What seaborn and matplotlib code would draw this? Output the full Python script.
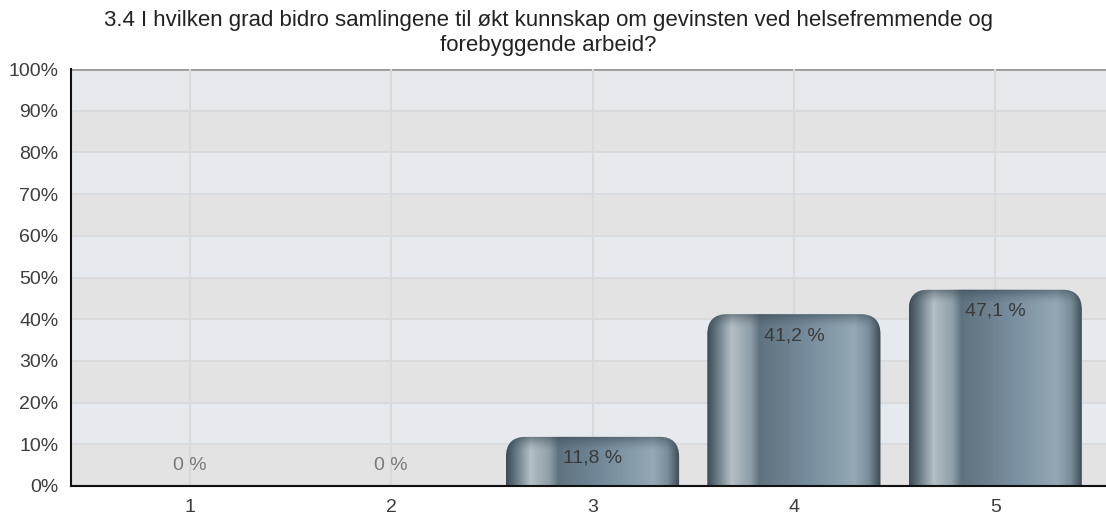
import numpy as np
import pandas as pd
import matplotlib
matplotlib.use("Agg")
import matplotlib.pyplot as plt
import seaborn as sns
from matplotlib.patches import FancyBboxPatch
from matplotlib.colors import LinearSegmentedColormap

categories = ["1", "2", "3", "4", "5"]
values = [0.0, 0.0, 11.8, 41.2, 47.1]
labels = ["0 %", "0 %", "11,8 %", "41,2 %", "47,1 %"]
title = ("3.4 I hvilken grad bidro samlingene til økt kunnskap om gevinsten ved helsefremmende og\n"
         "forebyggende arbeid?")

df = pd.DataFrame({"svar": categories, "prosent": values})

sns.set_style("white")
plt.rcParams["font.family"] = ["Liberation Sans", "DejaVu Sans"]

fig = plt.figure(figsize=(11.06, 5.19), dpi=100)
ax = fig.add_axes([71 / 1106, 33 / 519, 1 - 71 / 1106, (486 - 69) / 519])

sns.barplot(data=df, x="svar", y="prosent", order=categories, width=0.86,
            color="#6d8492", ax=ax, zorder=3)

# alternating background bands
ax.set_facecolor("#e3e3e4")
for y0 in range(10, 100, 20):
    ax.axhspan(y0, y0 + 10, color="#e6e9ed", zorder=0, lw=0)
for y in range(10, 100, 10):
    ax.axhline(y, color="#d8d9db", lw=1.2, zorder=1)
ax.axhline(100, color="#9a9a9a", lw=2, zorder=1)
for i in range(len(categories)):
    ax.axvline(i, color="#d8dadc", lw=1.5, zorder=1)

# bar gradient
grad = LinearSegmentedColormap.from_list("bar", [
    (0.00, "#3c4b55"), (0.05, "#61737e"), (0.14, "#b4bfc6"),
    (0.25, "#8e9ea8"), (0.30, "#5f737f"), (0.55, "#74899a"),
    (0.85, "#94a9b5"), (0.93, "#7a8f9b"), (1.00, "#3b4a54")])
row = np.linspace(0, 1, 256).reshape(1, -1)

px_x = 201.0
px_y = 4.17
r_px = 20
for patch, val in zip(ax.patches, values):
    patch.set_visible(False)
    if val <= 0:
        continue
    x0 = patch.get_x()
    w = patch.get_width()
    h = patch.get_height()
    rx = r_px / px_x
    ry = r_px / px_y
    shape = FancyBboxPatch((x0, -ry), w, h + ry,
                           boxstyle=f"round,pad=0,rounding_size={rx}",
                           mutation_aspect=ry / rx, facecolor="none",
                           edgecolor="none", zorder=3)
    ax.add_patch(shape)
    im = ax.imshow(row, cmap=grad, aspect="auto", extent=(x0, x0 + w, 0, h),
                   zorder=3, interpolation="bilinear")
    im.set_clip_path(shape)
    # dark cap on the top
    cap_h = 14 / px_y
    cap = np.linspace(0, 1, 64).reshape(-1, 1)
    capcol = np.zeros((64, 1, 4))
    capcol[..., :3] = np.array([0.2, 0.26, 0.3])
    capcol[..., 3] = 0.5 * cap ** 1.5
    im2 = ax.imshow(capcol, aspect="auto", extent=(x0, x0 + w, h - cap_h, h),
                    origin="lower", zorder=3.5, interpolation="bilinear")
    im2.set_clip_path(shape)

ax.set_xlim(-0.59, 4.55)
ax.set_ylim(0, 100)

for i, (val, lab) in enumerate(zip(values, labels)):
    if val > 0:
        ax.text(i, val - 5.2, lab, ha="center", va="center", fontsize=14,
                color="#3a3a3a", zorder=5)
    else:
        ax.text(i, 4.8, lab, ha="center", va="center", fontsize=14,
                color="#7a7a7a", zorder=5)

ax.set_yticks(range(0, 101, 10))
ax.set_yticklabels([f"{v}%" for v in range(0, 101, 10)])
ax.tick_params(axis="both", labelsize=14, labelcolor="#3d3d3d", colors="#111111",
               length=5, width=1.5, direction="out", pad=4)
ax.tick_params(axis="both", labelcolor="#3d3d3d")
ax.set_xlabel("")
ax.set_ylabel("")
for s in ["top", "right"]:
    ax.spines[s].set_visible(False)
for s in ["left", "bottom"]:
    ax.spines[s].set_color("#111111")
    ax.spines[s].set_linewidth(1.5)
    ax.spines[s].set_zorder(6)

fig.text(548 / 1106, 1 - 33 / 519, title, ha="center", va="center",
         fontsize=16, color="#222222", linespacing=1.2)

fig.savefig("out.png", dpi=100)
